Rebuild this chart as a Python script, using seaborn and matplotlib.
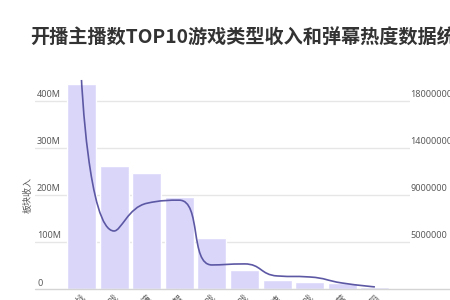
import numpy as np
import matplotlib
matplotlib.use("Agg")
import matplotlib.pyplot as plt
from matplotlib.path import Path
from matplotlib.patches import PathPatch
import seaborn as sns

# Top-10 game genres by number of live streamers
categories = ["竞技对战", "射击游戏", "角色扮演", "休闲益智", "策略游戏",
              "动作游戏", "体育竞速", "棋牌游戏", "模拟经营", "音乐舞蹈"]
revenue = [436e6, 262e6, 247e6, 196e6, 109e6, 40e6, 19e6, 15e6, 13e6, 5e6]
danmaku = [20.0e6, 5.55e6, 8.2e6, 8.5e6, 2.3e6, 2.4e6, 1.25e6, 1.15e6, 0.57e6, 0.2e6]

left_ticks = [0, 100e6, 200e6, 300e6, 400e6]
left_labels = ["0", "100M", "200M", "300M", "400M"]
right_ticks = [4.5e6, 9e6, 13.5e6, 18e6]
right_labels = ["5000000", "9000000", "14000000", "18000000"]

title = "开播主播数TOP10游戏类型收入和弹幕热度数据统计"
ylabel = "板块收入"

sns.set_theme(style="white")
plt.rcParams["font.family"] = ["Noto Sans CJK SC", "Noto Sans", "DejaVu Sans"]

W, H = 450, 300
fig = plt.figure(figsize=(W / 100, H / 100), dpi=100)
fig.patch.set_facecolor("white")

ax_l, ax_r, ax_b, ax_t = 35, 410, 289, 75
ax = fig.add_axes([ax_l / W, 1 - ax_b / H, (ax_r - ax_l) / W, (ax_b - ax_t) / H])

bar_color = "#d9d6fa"
line_color = "#5d58a4"
grid_color = "#e6e6e6"
text_color = "#5a5a5a"

sns.barplot(x=categories, y=revenue, color=bar_color, saturation=1,
            width=0.89, ax=ax, zorder=2)

ymax = 455e6
ax.set_ylim(0, ymax)
px_per_unit = 32.6
x0 = -(81.5 - ax_l) / px_per_unit
ax.set_xlim(x0, x0 + (ax_r - ax_l) / px_per_unit)

for s in ax.spines.values():
    s.set_visible(False)
ax.set_yticks([])
ax.set_ylabel("")
ax.set_xlabel("")

# horizontal gridlines
for t in left_ticks[1:]:
    ax.axhline(t, color=grid_color, lw=1.0, zorder=0)
# baseline, running on to the figure edge
ax.plot([0, (W - ax_l) / (ax_r - ax_l)], [0, 0], transform=ax.transAxes,
        color="#d4d4d4", lw=1.0, clip_on=False, zorder=3)

# left value labels, sitting just above their gridlines
px_val = ymax / (ax_b - ax_t)
for t, lab in zip(left_ticks, left_labels):
    ax.text((37 - ax_l) / (ax_r - ax_l), t + 6 * px_val, lab,
            transform=ax.get_yaxis_transform(), ha="left", va="center",
            fontsize=6.5, color=text_color, family=["Noto Sans", "DejaVu Sans"])

ax.tick_params(axis="x", length=0, pad=3)
for lbl in ax.get_xticklabels():
    lbl.set_rotation(45)
    lbl.set_ha("right")
    lbl.set_rotation_mode("anchor")
    lbl.set_fontsize(6.5)
    lbl.set_color(text_color)

# secondary axis for danmaku heat
ax2 = ax.twinx()
ax2.set_ylim(0, ymax * right_ticks[0] / left_ticks[1])
ax2.set_xlim(ax.get_xlim())
ax2.set_yticks([])
for s in ax2.spines.values():
    s.set_visible(False)
px_val2 = ax2.get_ylim()[1] / (ax_b - ax_t)
for t, lab in zip(right_ticks, right_labels):
    ax2.text(1.0 + 0.5 / (ax_r - ax_l), t + 6 * px_val2, lab,
             transform=ax2.get_yaxis_transform(), ha="left", va="center",
             fontsize=6.5, color=text_color, family=["Noto Sans", "DejaVu Sans"],
             clip_on=False)

# smoothed line (bezier control points in display space, monotone-clamped)
fig.canvas.draw()
pts = ax2.transData.transform(np.column_stack([np.arange(len(danmaku)), danmaku]))
smooth = 0.5
verts = [tuple(pts[0])]
codes = [Path.MOVETO]
cp0 = pts[0].copy()
n = len(pts)
for k in range(1, n):
    px_, py_ = pts[k - 1]
    x, y = pts[k]
    if k == n - 1:
        cp1 = np.array([x, y])
        ncp0 = np.array([x, y])
    else:
        nx, ny = pts[k + 1]
        vx, vy = nx - px_, ny - py_
        lp = np.hypot(x - px_, y - py_)
        ln = np.hypot(nx - x, ny - y)
        r = ln / (ln + lp)
        ncx = x + vx * smooth * r
        ncy = y + vy * smooth * r
        ncx = max(min(ncx, max(nx, x)), min(nx, x))
        ncy = max(min(ncy, max(ny, y)), min(ny, y))
        vx, vy = ncx - x, ncy - y
        c1x = x - vx * lp / ln
        c1y = y - vy * lp / ln
        c1x = max(min(c1x, max(px_, x)), min(px_, x))
        c1y = max(min(c1y, max(py_, y)), min(py_, y))
        vx, vy = x - c1x, y - c1y
        ncx = x + vx * ln / lp
        ncy = y + vy * ln / lp
        cp1 = np.array([c1x, c1y])
        ncp0 = np.array([ncx, ncy])
    verts += [tuple(cp0), tuple(cp1), (x, y)]
    codes += [Path.CURVE4] * 3
    cp0 = ncp0
data_verts = ax2.transData.inverted().transform(np.array(verts))
ax2.add_patch(PathPatch(Path(data_verts, codes), facecolor="none",
                        edgecolor=line_color, lw=1.2, zorder=5, clip_on=False))

# y-axis title
fig.text(28 / W, 1 - 195 / H, ylabel, rotation=90, ha="center", va="center",
         fontsize=6.5, color=text_color)

# chart title
fig.text(30 / W, 1 - 38 / H, title, ha="left", va="center", fontsize=13.8,
         fontweight="bold", color="#333333")

fig.savefig("out.png", dpi=100, facecolor="white")
